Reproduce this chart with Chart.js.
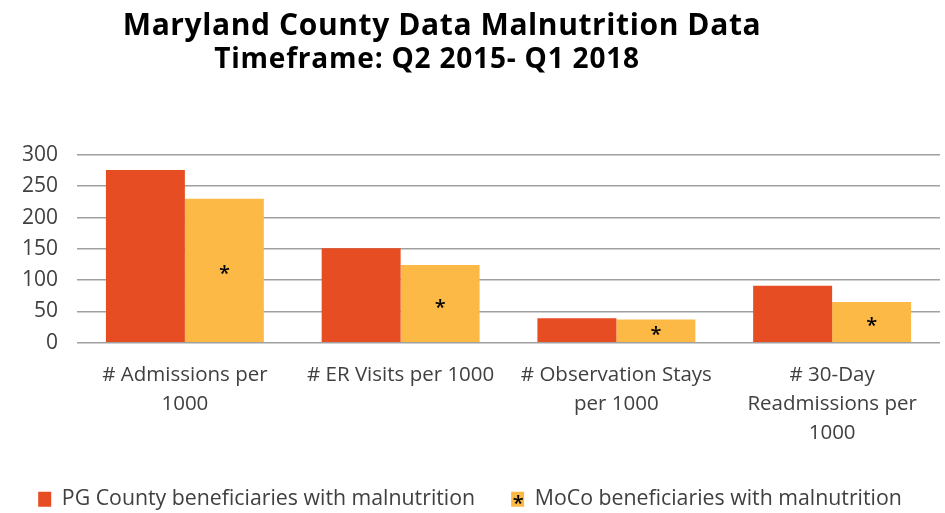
<!DOCTYPE html>
<html>
<head>
<meta charset="utf-8">
<script src="https://cdn.jsdelivr.net/npm/chart.js@4"></script>
<style>
  html, body { margin: 0; background: #fff; overflow: hidden; }
  #wrap { position: relative; width: 945px; height: 513px; overflow: hidden; }
  #title, #sub { position: absolute; left: 0; font-family: "Open Sans", sans-serif; font-weight: bold; color: #000; white-space: nowrap; text-align: center; line-height: 1; }
  #title { width: 884px; top: 9px; font-size: 30px; letter-spacing: 0.6px; }
  #sub { width: 854px; top: 43px; font-size: 28px; letter-spacing: 0.8px; }
</style>
</head>
<body>
<div id="wrap">
  <canvas id="myChart" width="945" height="520"></canvas>
  <div id="title">Maryland County Data Malnutrition Data</div>
  <div id="sub">Timeframe: Q2 2015- Q1 2018</div>
</div>
<script>
let categories = [
  ["# Admissions per", "1000"],
  "# ER Visits per 1000",
  ["# Observation Stays", "per 1000"],
  ["# 30-Day", "Readmissions per", "1000"]
];
let pgValues = [276, 151, 39, 91];
let mocoValues = [230, 124, 37, 65];
let seriesNames = ["PG County beneficiaries with malnutrition", "MoCo beneficiaries with malnutrition"];
let yTicks = [0, 50, 100, 150, 200, 250, 300];

// asterisks inside the MoCo bars and on its legend box
const starPlugin = {
  id: "stars",
  afterDatasetsDraw(chart) {
    const ctx = chart.ctx;
    ctx.save();
    ctx.fillStyle = "#000";
    ctx.font = "600 20px 'Open Sans'";
    ctx.textAlign = "center";
    ctx.textBaseline = "alphabetic";
    const m = ctx.measureText("*");
    const shift = (m.actualBoundingBoxAscent - m.actualBoundingBoxDescent) / 2;
    chart.getDatasetMeta(1).data.forEach(bar => {
      ctx.fillText("*", bar.x, (bar.y + bar.base) / 2 + shift);
    });
    const box = chart.legend.legendHitBoxes[1];
    if (box) {
      ctx.fillText("*", box.left + 7, box.top + box.height / 2 + shift + 1);
    }
    ctx.restore();
  }
};

new Chart(document.getElementById("myChart"), {
  type: "bar",
  data: {
    labels: categories,
    datasets: [
      { label: seriesNames[0], data: pgValues, backgroundColor: "#E64D22" },
      { label: seriesNames[1], data: mocoValues, backgroundColor: "#FDB946" }
    ]
  },
  options: {
    responsive: false,
    animation: false,
    layout: { padding: { top: 155, right: 5, left: 0, bottom: 0 } },
    datasets: { bar: { categoryPercentage: 0.732, barPercentage: 1 } },
    scales: {
      x: {
        afterFit(axis) { axis.height = 110; },
        grid: { display: false, drawTicks: false },
        border: { display: false },
        ticks: { color: "#404040", font: { family: "Open Sans", size: 20.5, lineHeight: 1.42 }, maxRotation: 0, padding: 18 }
      },
      y: {
        min: 0,
        max: 300,
        afterBuildTicks(axis) { axis.ticks = yTicks.map(v => ({ value: v })); },
        afterFit(axis) { axis.width = 77; },
        grid: { color: "#a0a0a0", lineWidth: 1.6, drawTicks: false },
        border: { display: false },
        ticks: { color: "#404040", font: { family: "Open Sans", size: 21 }, padding: 19, autoSkip: false }
      }
    },
    plugins: {
      legend: {
        position: "bottom",
        labels: { color: "#404040", font: { family: "Open Sans", size: 21.3 }, boxWidth: 13, boxHeight: 15, padding: 36 }
      },
      tooltip: { enabled: false }
    }
  },
  plugins: [starPlugin]
});
</script>
</body>
</html>
